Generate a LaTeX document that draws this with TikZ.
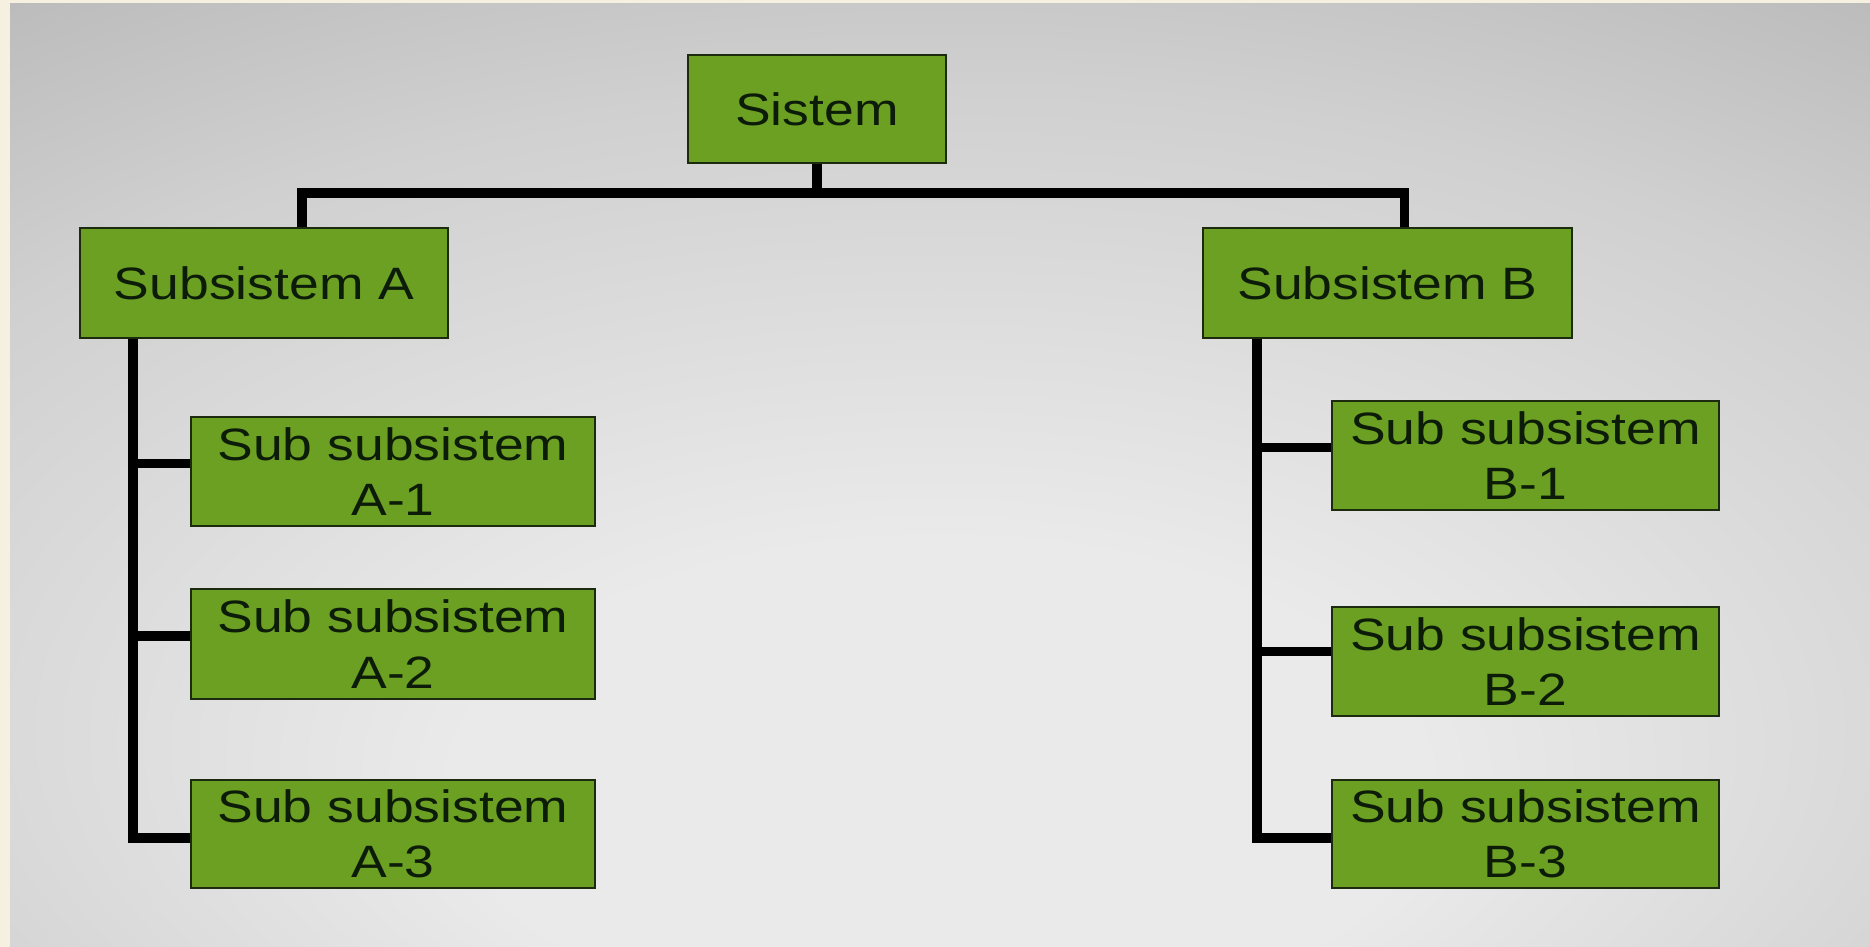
\documentclass[tikz,border=0pt]{standalone}
\usepackage{fontspec}
\setmainfont{Liberation Sans}
\usepackage{graphicx}
\usetikzlibrary{calc,positioning}
\definecolor{boxgreen}{RGB}{107,160,35}
\definecolor{boxedge}{RGB}{28,42,14}
\definecolor{txtdark}{RGB}{12,28,8}
\definecolor{bglight}{RGB}{234,234,234}
\definecolor{bgmid}{RGB}{208,208,208}
\definecolor{bgdark}{RGB}{172,172,172}
\definecolor{cream}{RGB}{246,240,225}
\pgfdeclareradialshading{bgglow}{\pgfpoint{0bp}{-20bp}}{color(0bp)=(bglight); color(13bp)=(bglight); color(32bp)=(bgmid); color(50bp)=(bgdark); color(75bp)=(bgdark)}
\newcommand{\wide}[1]{\scalebox{1.18}[1]{#1}}

\begin{document}
\begin{tikzpicture}[
		box/.style={draw=boxedge, line width=0.6pt, fill=boxgreen, text=txtdark, align=center, inner sep=0pt,
			font=\fontsize{12.9}{15.8}\selectfont},
		bar/.style={line width=2.6pt, black},
	]
		% Background
		\useasboundingbox (0,0) rectangle (18.7,-9.47);
		\fill[cream] (0,0) rectangle (18.7,-9.47);
		\shade[shading=bgglow] (0.1,-0.04) rectangle (18.7,-9.47);
		% Boxes
		\node[box, minimum width=2.58cm, minimum height=1.08cm] (sys) at (8.17,-1.09) {\wide{Sistem}};
		\node[box, minimum width=3.68cm, minimum height=1.10cm] (subA) at (2.64,-2.83) {\wide{Subsistem A}};
		\node[box, minimum width=3.69cm, minimum height=1.10cm] (subB) at (13.875,-2.83) {\wide{Subsistem B}};
		\node[box, minimum width=4.04cm, minimum height=1.09cm] (a1) at (3.93,-4.715) {\wide{Sub subsistem}\\\wide{A-1}};
		\node[box, minimum width=4.04cm, minimum height=1.10cm] (a2) at (3.93,-6.44) {\wide{Sub subsistem}\\\wide{A-2}};
		\node[box, minimum width=4.04cm, minimum height=1.08cm] (a3) at (3.93,-8.34) {\wide{Sub subsistem}\\\wide{A-3}};
		\node[box, minimum width=3.87cm, minimum height=1.09cm] (b1) at (15.255,-4.555) {\wide{Sub subsistem}\\\wide{B-1}};
		\node[box, minimum width=3.87cm, minimum height=1.09cm] (b2) at (15.255,-6.615) {\wide{Sub subsistem}\\\wide{B-2}};
		\node[box, minimum width=3.87cm, minimum height=1.08cm] (b3) at (15.255,-8.34) {\wide{Sub subsistem}\\\wide{B-3}};
		% Links
		\draw[bar] (sys.south) -- ++(0,-0.29) coordinate (bus);
		\draw[bar] ([xshift=0.38cm]subA.north) |- (bus) -| ([xshift=0.17cm]subB.north);
		\foreach \n/\dy in {a1/0.08,a2/0.08,a3/-0.04}
			\draw[bar] ([xshift=0.54cm]subA.south west) |- ([yshift=\dy cm]\n.west);
		\foreach \n/\dy in {b1/0.08,b2/0.1,b3/-0.04}
			\draw[bar] ([xshift=0.55cm]subB.south west) |- ([yshift=\dy cm]\n.west);
	\end{tikzpicture}
\end{document}
